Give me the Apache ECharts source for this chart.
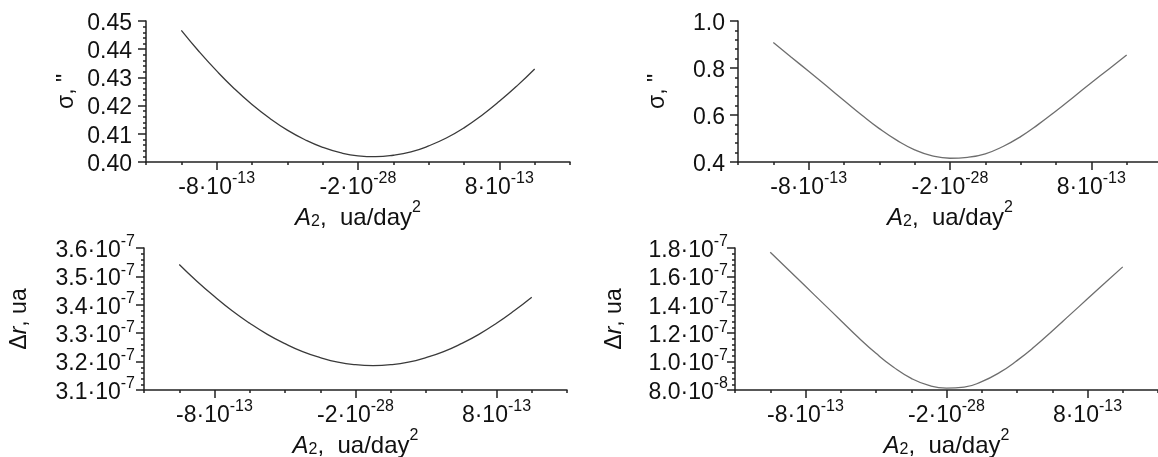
<!DOCTYPE html>
<html>
<head>
<meta charset="utf-8">
<script src="https://cdn.jsdelivr.net/npm/echarts@6/dist/echarts.min.js"></script>
<style>
  html, body { margin: 0; padding: 0; background: #fff; }
  #main { width: 1158px; height: 457px; }
</style>
</head>
<body>
<div id="main"></div>
<script>
// A2 in units of 1e-13 ua/day^2
const a2Values = [-10, -9, -8, -7, -6, -5, -4, -3, -2, -1, 0, 1, 2, 3, 4, 5, 6, 7, 8, 9, 10];

// sigma, arcsec
const sigmaLeft = [0.4467, 0.4392, 0.4323, 0.4260, 0.4204, 0.4155, 0.4113, 0.4079, 0.4052, 0.4033, 0.4022,
  0.4019, 0.4024, 0.4036, 0.4057, 0.4085, 0.4121, 0.4165, 0.4215, 0.4270, 0.4330];
const sigmaRight = [0.909, 0.847, 0.786, 0.724, 0.662, 0.600, 0.542, 0.492, 0.452, 0.426, 0.416,
  0.420, 0.435, 0.466, 0.508, 0.560, 0.617, 0.677, 0.737, 0.796, 0.855];

// delta r, units of 1e-7 ua
const drLeft = [3.542, 3.483, 3.429, 3.379, 3.335, 3.296, 3.263, 3.235, 3.214, 3.198, 3.189,
  3.186, 3.189, 3.198, 3.214, 3.235, 3.263, 3.296, 3.335, 3.379, 3.427];
const drRight = [1.770, 1.650, 1.530, 1.410, 1.290, 1.170, 1.058, 0.960, 0.882, 0.832, 0.813,
  0.820, 0.859, 0.922, 1.007, 1.106, 1.216, 1.329, 1.442, 1.555, 1.667];

// tick labels ('^' marks the exponent)
const xTickValues = [-8, 0, 8];
const xTickLabels = ['-8·10^-13', '-2·10^-28', '8·10^-13'];
const sigmaLeftTicks = ['0.40', '0.41', '0.42', '0.43', '0.44', '0.45'];
const sigmaRightTicks = ['0.4', '0.6', '0.8', '1.0'];
const drLeftTicks = ['3.1·10^-7', '3.2·10^-7', '3.3·10^-7', '3.4·10^-7', '3.5·10^-7', '3.6·10^-7'];
const drRightTicks = ['8.0·10^-8', '1.0·10^-7', '1.2·10^-7', '1.4·10^-7', '1.6·10^-7', '1.8·10^-7'];

const chart = echarts.init(document.getElementById('main'));

const font = 'Liberation Sans';
const textColor = '#111';
const axisColor = '#222';

const rich = {
  b: { fontSize: 23, fontFamily: font, color: textColor, lineHeight: 28, verticalAlign: 'bottom' },
  s: { fontSize: 16, fontFamily: font, color: textColor, lineHeight: 15, verticalAlign: 'top' },
  i: { fontSize: 23, fontFamily: font, fontStyle: 'italic', color: textColor, lineHeight: 28, verticalAlign: 'bottom' }
};

// x axis name: subscript sits lower, so the line is taller
const nameRich = {
  b: { fontSize: 24, fontFamily: font, color: textColor, lineHeight: 30, verticalAlign: 'bottom' },
  i: { fontSize: 24, fontFamily: font, fontStyle: 'italic', color: textColor, lineHeight: 30, verticalAlign: 'bottom' },
  s: { fontSize: 16, fontFamily: font, color: textColor, lineHeight: 17, verticalAlign: 'top' },
  sub: { fontSize: 16, fontFamily: font, color: textColor, lineHeight: 10, verticalAlign: 'bottom' }
};

function sup(str) {
  const p = str.split('^');
  return p.length > 1 ? '{b|' + p[0] + '}{s|' + p[1] + '}' : '{b|' + str + '}';
}

const xName = '{i|A}{sub|2}{b|,  ua/day}{s|2}';
const sigmaName = '{b|σ, "}';
const drName = '{b|Δ}{i|r}{b|, ua}';

const panels = [
  { grid: { left: 146, top: 21, width: 424, height: 141 }, data: sigmaLeft, min: 0.40, max: 0.45, interval: 0.01,
    ticks: sigmaLeftTicks, name: sigmaName, nameGap: 68, labelMargin: 14, color: '#3a3a3a' },
  { grid: { left: 738, top: 21, width: 424, height: 141 }, data: sigmaRight, min: 0.4, max: 1.0, interval: 0.2,
    ticks: sigmaRightTicks, name: sigmaName, nameGap: 69, labelMargin: 13, color: '#6e6e6e' },
  { grid: { left: 144, top: 248, width: 423, height: 142 }, data: drLeft, min: 3.1, max: 3.6, interval: 0.1,
    ticks: drLeftTicks, name: drName, nameGap: 113, labelMargin: 9, color: '#3a3a3a' },
  { grid: { left: 735, top: 248, width: 423, height: 142 }, data: drRight, min: 0.8, max: 1.8, interval: 0.2,
    ticks: drRightTicks, name: drName, nameGap: 109, labelMargin: 7, color: '#6e6e6e' }
];

const lineStyle = { color: axisColor, width: 1.5 };
const grid = [], xAxis = [], yAxis = [], series = [];

panels.forEach((p, i) => {
  grid.push(Object.assign({ outerBoundsMode: 'none', containLabel: false }, p.grid));
  // minor ticks every 2e-13
  xAxis.push({
    gridIndex: i, type: 'value', min: -12, max: 12, interval: 2, position: 'bottom',
    axisLine: { show: true, onZero: false, lineStyle },
    axisTick: { show: true, length: 3, lineStyle },
    axisLabel: { show: false },
    splitLine: { show: false }
  });
  // major ticks with labels
  xAxis.push({
    gridIndex: i, type: 'value', min: -12, max: 12, interval: 2, position: 'bottom',
    axisLine: { show: false, onZero: false },
    axisTick: { show: true, length: 8, customValues: xTickValues, lineStyle },
    axisLabel: {
      customValues: xTickValues, margin: 9, rich,
      formatter: v => sup(xTickLabels[xTickValues.findIndex(t => Math.abs(t - v) < 1e-9)])
    },
    splitLine: { show: false },
    name: xName, nameLocation: 'middle', nameGap: 34, nameTextStyle: { rich: nameRich }
  });
  yAxis.push({
    gridIndex: i, type: 'value', min: p.min, max: p.max, interval: p.interval,
    axisLine: { show: true, onZero: false, lineStyle },
    axisTick: { show: true, length: 8, lineStyle },
    minorTick: { show: true, splitNumber: 5, length: 3, lineStyle },
    axisLabel: {
      margin: p.labelMargin, rich,
      formatter: v => sup(p.ticks[Math.round((v - p.min) / p.interval)])
    },
    splitLine: { show: false },
    minorSplitLine: { show: false },
    name: p.name, nameLocation: 'middle', nameRotate: 90, nameGap: p.nameGap, nameTextStyle: { rich }
  });
  series.push({
    type: 'line', xAxisIndex: 2 * i, yAxisIndex: i,
    data: a2Values.map((x, k) => [x, p.data[k]]),
    showSymbol: false, smooth: true, silent: true,
    lineStyle: { color: p.color, width: 1.3 }
  });
});

chart.setOption({
  animation: false,
  backgroundColor: '#fff',
  textStyle: { fontFamily: font },
  grid, xAxis, yAxis, series
});
</script>
</body>
</html>
